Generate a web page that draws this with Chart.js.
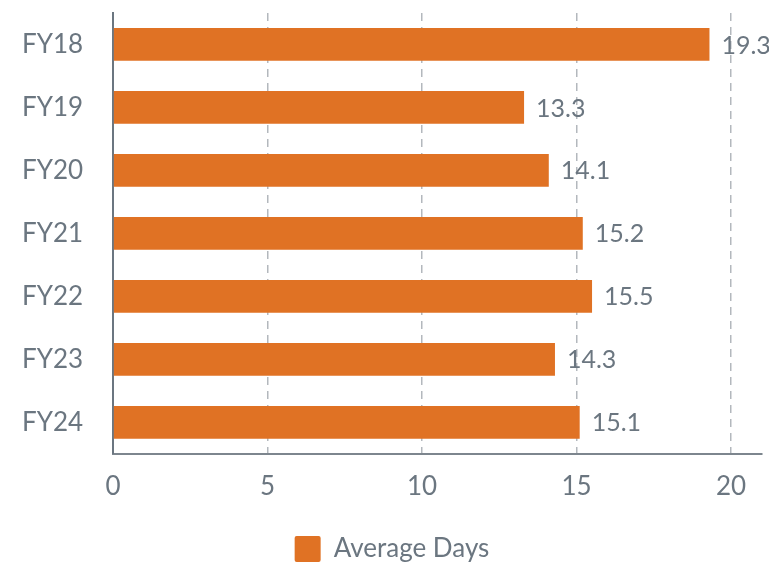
<!DOCTYPE html>
<html lang="en">

<head>
    <meta charset="UTF-8">
    <title>Average Days</title>
    <style>
        html, body { margin: 0; padding: 0; background: #fff; overflow: hidden; }
        .chartBox { width: 769px; height: 574px; }
    </style>
</head>

<body>
    <div class="chartBox">
        <canvas id="daysChart"></canvas>
    </div>
</body>

<script src="https://cdn.jsdelivr.net/npm/chart.js"></script>
<script>
    const years = ["FY18", "FY19", "FY20", "FY21", "FY22", "FY23", "FY24"];
    const averageDays = [19.3, 13.3, 14.1, 15.2, 15.5, 14.3, 15.1];
    const xTicks = [0, 5, 10, 15, 20];

    const textGrey = '#6b7680';
    const barOrange = '#e07224';

    // value printed just past the end of each bar
    const valueLabels = {
        id: 'valueLabels',
        afterDatasetsDraw(chart) {
            const ctx = chart.ctx;
            const meta = chart.getDatasetMeta(0);
            ctx.save();
            ctx.font = '25px Lato';
            ctx.fillStyle = textGrey;
            ctx.textAlign = 'left';
            ctx.textBaseline = 'middle';
            meta.data.forEach((bar, i) => {
                ctx.fillText(averageDays[i].toFixed(1), bar.x + 12, bar.y + 1);
            });
            ctx.restore();
        }
    };

    const ctx = document.getElementById('daysChart').getContext('2d');
    const daysChart = new Chart(ctx, {
        type: 'bar',
        data: {
            labels: years,
            datasets: [{
                label: 'Average Days',
                data: averageDays,
                backgroundColor: barOrange,
                categoryPercentage: 1,
                barPercentage: 0.52
            }]
        },
        options: {
            indexAxis: 'y',
            responsive: true,
            maintainAspectRatio: false,
            animation: false,
            layout: {
                padding: { top: 0, right: 7, left: 22, bottom: 2 }
            },
            scales: {
                x: {
                    min: 0,
                    max: 21,
                    afterBuildTicks: (axis) => {
                        axis.ticks = xTicks.map(v => ({ value: v }));
                    },
                    // a little extra room between the tick labels and the legend
                    afterFit: (axis) => {
                        axis.height += 5;
                    },
                    border: { display: true, color: '#7d868e', width: 2, dash: [8, 6] },
                    grid: {
                        color: (c) => c.tick && c.tick.value === 0 ? 'rgba(0,0,0,0)' : '#b3b8bd',
                        lineWidth: 1.5,
                        drawTicks: false
                    },
                    ticks: {
                        color: textGrey,
                        font: { family: 'Lato', size: 26 },
                        padding: 17
                    }
                },
                y: {
                    border: { display: true, color: '#6b7680', width: 2 },
                    // invisible tick marks keep the labels clear of the axis
                    grid: {
                        color: 'rgba(0,0,0,0)',
                        drawTicks: true,
                        tickLength: 30
                    },
                    ticks: {
                        color: textGrey,
                        font: { family: 'Lato', size: 26, lineHeight: 1 },
                        padding: 0
                    }
                }
            },
            plugins: {
                legend: {
                    position: 'bottom',
                    labels: {
                        color: textGrey,
                        font: { family: 'Lato', size: 26 },
                        boxWidth: 26,
                        boxHeight: 26,
                        padding: 12,
                        useBorderRadius: true,
                        borderRadius: 2
                    }
                },
                tooltip: { enabled: false }
            }
        },
        plugins: [valueLabels]
    });
</script>

</html>
